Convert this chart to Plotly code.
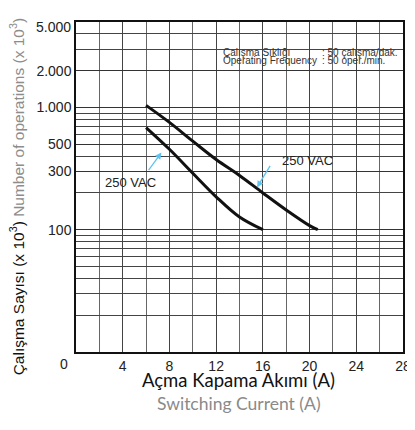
import numpy as np
import plotly.graph_objects as go

# curves (x = switching current A, y = operations x10^3)
upper_x = [6, 8, 10, 12, 14, 16, 18, 20, 20.7]
upper_y = [1040, 755, 530, 375, 278, 200, 145, 108, 100]
lower_x = [6, 8, 10, 12, 14, 16]
lower_y = [685, 455, 290, 186, 127, 100]

x_ticks = [4, 8, 12, 16, 20, 24, 28]
y_ticks = [100, 300, 500, 1000, 2000, 5000]
y_text = ['100', '300', '500', '1.000', '2.000', '']  # 5.000 drawn a bit lower, as on the sheet
y_minor = [v * m for m in (10, 100, 1000) for v in range(2, 10) if v * m <= 5000 and v * m not in y_ticks]

# plot area in screen pixels (page body margin shifts the figure by 8px)
OFF = 8
L, R, T, B = 76, 405, 22, 352
W, H = 415, 430


def px(xp):
    return (xp - L) / (R - L)


def py(yp):
    return (B - yp) / (B - T)


def label(text, xp, yp, font, xanchor='center', **kw):
    fig.add_annotation(text=text, xref='paper', yref='paper', x=px(xp), y=py(yp),
                       xanchor=xanchor, yanchor='middle', showarrow=False,
                       borderpad=0, font=font, **kw)


fig = go.Figure()

for xs, ys in [(upper_x, upper_y), (lower_x, lower_y)]:
    fig.add_trace(go.Scatter(
        x=xs, y=ys, mode='lines',
        line=dict(color='#111111', width=3, shape='spline', smoothing=1.0),
        hoverinfo='skip',
    ))

# white boxes that hide the grid behind the labels
boxes = [(95, 158, 171, 202), (277, 342, 147, 174), (218, 404, 34, 80)]
for x0, x1, y0, y1 in boxes:
    fig.add_shape(type='rect', xref='paper', yref='paper',
                  x0=px(x0), x1=px(x1), y0=py(y1), y1=py(y0),
                  fillcolor='white', line=dict(width=0), layer='between')

tick_font = dict(family='Liberation Sans, Arial', size=14, color='#222')
lab_font = dict(family='Liberation Sans, Arial', size=13, color='#222')
label('250 VAC', 131, 182, lab_font)
label('250 VAC', 309, 160, lab_font)

# light blue arrows pointing at the curves
arrow_col = '#5cc4ef'
fig.add_annotation(text='', x=7.32, y=np.log10(428), ax=-14, ay=19,
                   showarrow=True, arrowhead=2, arrowsize=1, arrowwidth=1.3, arrowcolor=arrow_col)
fig.add_annotation(text='', x=15.5, y=np.log10(222), ax=14, ay=-23,
                   showarrow=True, arrowhead=2, arrowsize=1, arrowwidth=1.3, arrowcolor=arrow_col)

# operating frequency note
note_font = dict(family='Liberation Sans Narrow, Liberation Sans, Arial', size=10, color='#333')
for txt, xp, yp in [('Çalışma Sıklığı', 223, 52), ('Operating Frequency', 223, 61),
                    (': 50 çalışma/dak.', 322, 52), (': 50 oper./min.', 322, 61)]:
    label(txt, xp, yp, note_font, xanchor='left')

# odd tick labels of the original: "0" left of the axis, "5.000" below the top edge
label('0', 64, 364, tick_font)
label('5.000', 72, 27, tick_font, xanchor='right')

# axis titles
label('Açma Kapama Akımı (A)', 239, 380, dict(family='Lato, Open Sans', size=18.5, color='#111'))
label('Switching Current (A)', 240, 404, dict(family='Lato, Open Sans', size=17.5, color='#8a8a8a'))
label('Çalışma Sayısı (x 10<sup>3</sup>) <span style="color:#8c8c8c">Number of operations (x 10<sup>3</sup>)</span>',
      17, 196, dict(family='Liberation Sans, Arial', size=15.5, color='#111'), textangle=-90)

fig.update_layout(
    width=W, height=H,
    margin=dict(l=L - OFF, r=W - R + OFF, t=T - OFF, b=H - B + OFF),
    plot_bgcolor='white', paper_bgcolor='white',
    showlegend=False,
    xaxis=dict(range=[0, 28], tickvals=x_ticks, ticks='', showgrid=True,
               gridcolor='#444', gridwidth=1, zeroline=False,
               minor=dict(dtick=2, tick0=0, showgrid=True, gridcolor='#666', gridwidth=1),
               showline=True, linecolor='#111', linewidth=1.5, mirror=True,
               tickfont=tick_font),
    yaxis=dict(type='log', range=[1, np.log10(5000)], tickvals=y_ticks, ticktext=y_text,
               ticks='', showgrid=True, gridcolor='#333', gridwidth=1,
               minor=dict(tickvals=y_minor, showgrid=True, gridcolor='#444', gridwidth=1),
               showline=True, linecolor='#111', linewidth=1.5, mirror=True,
               tickfont=tick_font),
)

fig.write_html('out.html')
